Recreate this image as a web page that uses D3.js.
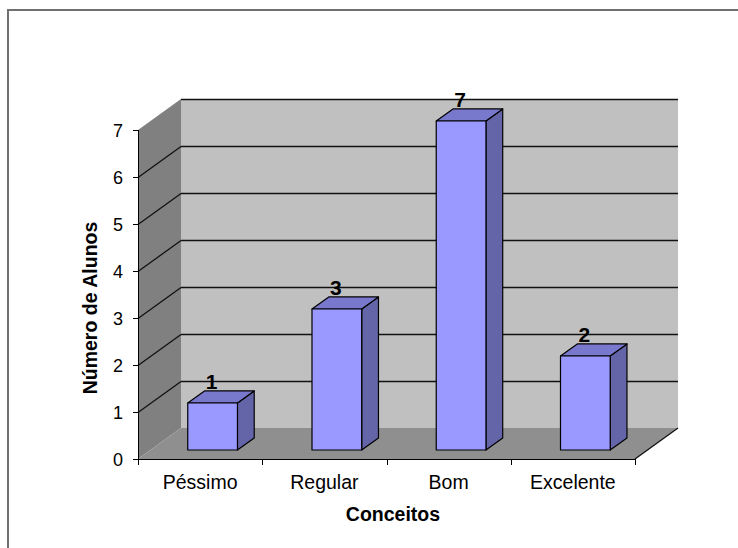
<!DOCTYPE html>
<html><head><meta charset="utf-8">
<script src="https://cdn.jsdelivr.net/npm/d3@7"></script>
<style>html,body{margin:0;padding:0;background:#fff;}svg{display:block;font-family:Arial,"Liberation Sans",sans-serif;}</style>
</head><body>
<script>
const categories = ["Péssimo", "Regular", "Bom", "Excelente"];
const values = [1, 3, 7, 2];
const yTicks = [0, 1, 2, 3, 4, 5, 6, 7];
const xTitle = "Conceitos";
const yTitle = "Número de Alunos";

const W = 738, H = 548;
const svg = d3.select("body").append("svg").attr("width", W).attr("height", H);

const x0 = 138, x1 = 635, yBase = 459, yTop = 130;
const DX = 43, DY = -31;            // depth of the 3D box
const bf = 0.29, bb = 0.68;         // bar front/back depth fractions

const x = d3.scaleBand().domain(categories).range([x0, x1]).paddingInner(0.6).paddingOuter(0.3);
const y = d3.scaleLinear().domain([0, 7]).range([yBase, yTop]);

// outer frame (top & left visible)
svg.append("path").attr("d", `M8,${H} L8,10 L${W},10`).attr("fill", "none")
  .attr("stroke", "#707070").attr("stroke-width", 2);

const poly = pts => "M" + pts.map(p => p.join(",")).join("L") + "Z";

// back wall
svg.append("path").attr("d", poly([[x0+DX, y(7)+DY],[x1+DX, y(7)+DY],[x1+DX, y(0)+DY],[x0+DX, y(0)+DY]]))
  .attr("fill", "#c0c0c0");
// left wall
svg.append("path").attr("d", poly([[x0, y(0)],[x0, y(7)],[x0+DX, y(7)+DY],[x0+DX, y(0)+DY]]))
  .attr("fill", "#808080");
// floor
svg.append("path").attr("d", poly([[x0, y(0)],[x1, y(0)],[x1+DX, y(0)+DY],[x0+DX, y(0)+DY]]))
  .attr("fill", "#8f8f8f");

// gridlines
const g = svg.append("g").attr("stroke", "#111").attr("stroke-width", 1.3).attr("fill", "none");
yTicks.filter(t => t > 0).forEach(t => {
  const yy = Math.round(y(t)) + 0.5;
  g.append("path").attr("d", `M${x0+DX},${yy+DY}L${x1+DX},${yy+DY}`);
  if (t < 7) g.append("path").attr("d", `M${x0},${yy}L${x0+DX},${yy+DY}`);
});
// floor right edge
g.append("path").attr("d", `M${x1},${y(0)}L${x1+DX},${y(0)+DY}`);

// bars
const bars = svg.append("g").attr("stroke", "#000").attr("stroke-width", 1.2).attr("stroke-linejoin", "round");
categories.forEach((c, i) => {
  const v = values[i];
  const fx = x(c) + DX*bf, fy = DY*bf;
  const bw = x.bandwidth();
  const ddx = DX*(bb-bf), ddy = DY*(bb-bf);
  const yb = y(0) + fy, yt = y(v) + fy;
  bars.append("path").attr("d", poly([[fx+bw, yb],[fx+bw, yt],[fx+bw+ddx, yt+ddy],[fx+bw+ddx, yb+ddy]])).attr("fill", "#6464a8");
  bars.append("path").attr("d", poly([[fx, yt],[fx+bw, yt],[fx+bw+ddx, yt+ddy],[fx+ddx, yt+ddy]])).attr("fill", "#7878cc");
  bars.append("path").attr("d", poly([[fx, yb],[fx+bw, yb],[fx+bw, yt],[fx, yt]])).attr("fill", "#9999ff");
  svg.append("text").attr("x", fx + bw/2 - 1).attr("y", yt + ddy - 2)
    .attr("text-anchor", "middle").attr("font-weight", "bold").attr("font-size", 21).text(v);
});

// y axis
const ya = svg.append("g").attr("stroke", "#000").attr("fill", "none");
ya.append("path").attr("d", `M${x0+0.5},${y(7)}L${x0+0.5},${y(0)}`);
yTicks.forEach(t => {
  const yy = Math.round(y(t)) + 0.5;
  ya.append("path").attr("d", `M${x0-5},${yy}L${x0},${yy}`);
  svg.append("text").attr("x", x0 - 15).attr("y", yy).attr("dy", "0.36em")
    .attr("text-anchor", "end").attr("font-size", 18).text(t);
});
// x axis
ya.append("path").attr("d", `M${x0},${y(0)+0.5}L${x1},${y(0)+0.5}`);
const step = x.step();
d3.range(categories.length + 1).forEach(k => {
  const xx = Math.round(x0 + k*step) + 0.5;
  ya.append("path").attr("d", `M${xx},${y(0)}L${xx},${y(0)+6}`);
});
categories.forEach(c => {
  svg.append("text").attr("x", x(c) + x.bandwidth()/2).attr("y", 489)
    .attr("text-anchor", "middle").attr("font-size", 19.5).text(c);
});

// titles
svg.append("text").attr("x", 393).attr("y", 521).attr("text-anchor", "middle")
  .attr("font-weight", "bold").attr("font-size", 19.5).text(xTitle);
svg.append("text").attr("transform", "translate(97,308) rotate(-90)").attr("text-anchor", "middle")
  .attr("font-weight", "bold").attr("font-size", 19.5).text(yTitle);
</script>
</body></html>
